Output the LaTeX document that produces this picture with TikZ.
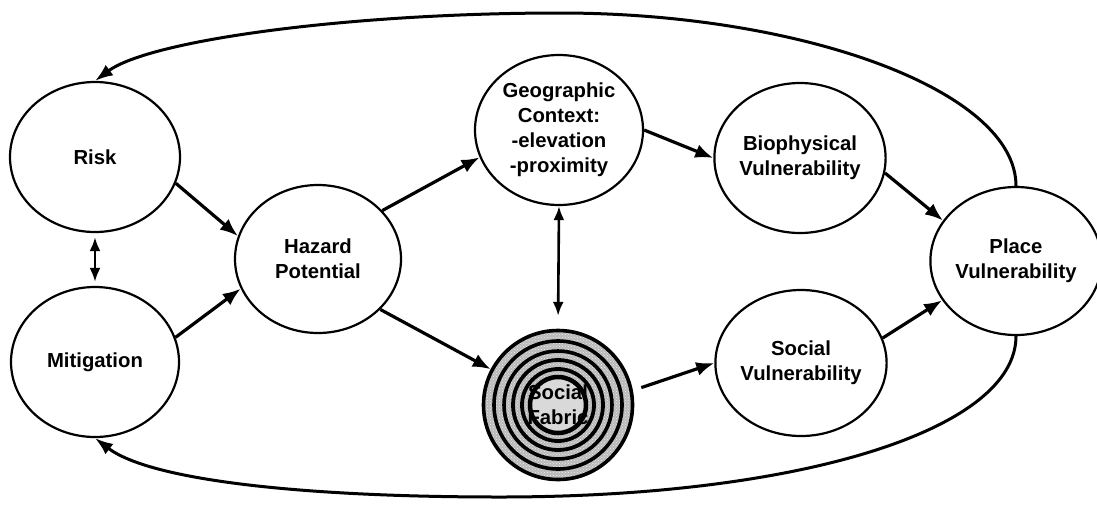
\documentclass[tikz,border=0pt]{standalone}
\usepackage{fontspec}
\setmainfont{Liberation Sans}
\usetikzlibrary{shapes.geometric,arrows.meta,patterns}

\begin{document}
\begin{tikzpicture}[x=1pt,y=-1pt,
  label font/.style={font=\fontsize{20.3}{25}\selectfont\bfseries},
  bubble/.style={ellipse, draw, line width=2.2pt, inner sep=0pt, align=center, label font},
  flow/.style={line width=3.2pt, -{Latex[length=18pt,width=14pt]}},
  both/.style={line width=2.6pt, {Latex[length=14pt,width=11pt]}-{Latex[length=14pt,width=11pt]}},
  feedback/.style={line width=3pt, -{Latex[length=18pt,width=13pt]}}
]
\useasboundingbox (0,0) rectangle (1097,507);

% nodes
\node[bubble, minimum width=170pt, minimum height=150pt] (risk)   at (95,157)  {Risk};
\node[bubble, minimum width=168pt, minimum height=150pt] (mitig)  at (95,362)  {Mitigation};
\node[bubble, minimum width=166pt, minimum height=148pt] (hazard) at (318,259) {Hazard\\Potential};
\node[bubble, minimum width=168pt, minimum height=150pt] (geo)    at (559,130) {Geographic\\Context:\\-elevation\\-proximity};
\node[bubble, minimum width=166pt, minimum height=150pt] (bio)    at (800,158) {Biophysical\\Vulnerability};
\node[bubble, minimum width=168pt, minimum height=146pt] (socv)   at (801,363) {Social\\Vulnerability};
\node[bubble, minimum width=160pt, minimum height=148pt] (place)  at (1016,261) {Place\\Vulnerability};

% social fabric: concentric textured rings
\node[circle, minimum size=152pt, inner sep=0pt] (fabric) at (558,405) {};
\fill[gray!55] (fabric.center) circle (76pt);
\fill[pattern=crosshatch dots, pattern color=white!85!gray] (fabric.center) circle (76pt);
\fill[gray!30] (fabric.center) circle (26pt);
\foreach \r/\w in {74.5/3.6, 64/3.6, 54/3.6, 45/3.8, 36/3.8, 28/4.5}
  \draw[line width=\w pt] (fabric.center) circle (\r pt);
\node[align=center, label font, inner sep=0pt]
  (fabrictext) at (fabric.center) {Social\\Fabric};

% connectors
\draw[flow] (risk.-18) -- (hazard.164);
\draw[flow] (mitig.17) -- (hazard.-159);
\draw[both, shorten <=4pt, shorten >=4pt] (risk.south) -- (mitig.north);
\draw[flow] (hazard.37) -- (geo.199);
\draw[flow] (hazard.-39) -- (fabric.152);
\draw[both, shorten >=13pt] (geo.south) -- (fabric.north);
\draw[flow] (geo.0) -- (bio.180);
\draw[flow, shorten <=9pt] (fabric.11) -- (socv.180);
\draw[flow] (bio.-10) -- (place.151);
\draw[flow] (socv.17) -- (place.-152);

% feedback loops
\draw[feedback] (place.north) .. controls (1016,90) and (800,13) .. (560,13)
                 .. controls (350,13) and (150,40) .. (risk.north);
\draw[feedback] (place.south) .. controls (1016,430) and (800,497) .. (500,497)
                 .. controls (300,497) and (150,480) .. (mitig.south);
\end{tikzpicture}
\end{document}
